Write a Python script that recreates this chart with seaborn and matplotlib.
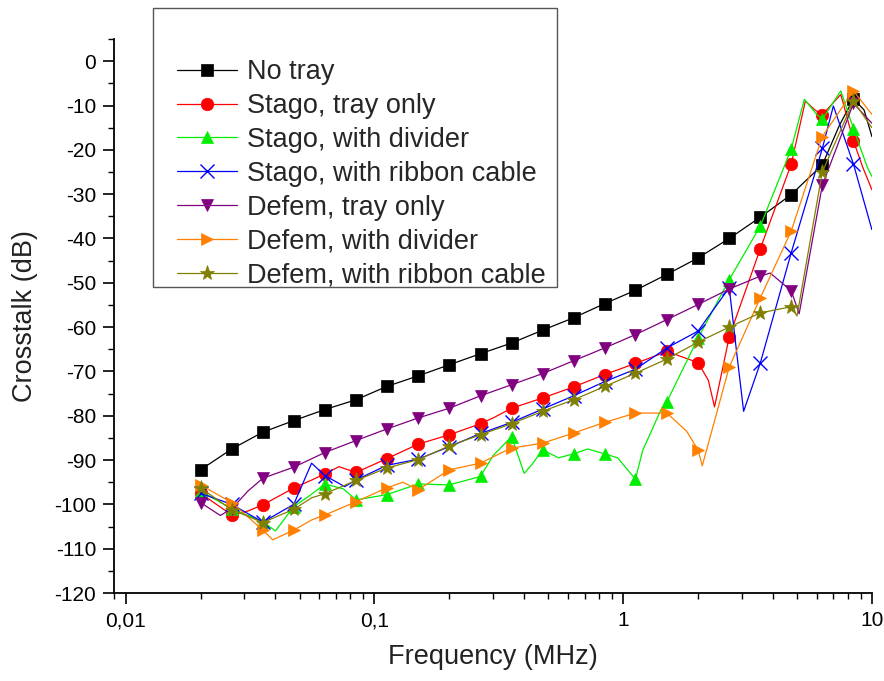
import numpy as np
import pandas as pd
import matplotlib
matplotlib.use("Agg")
import matplotlib.pyplot as plt
import matplotlib.ticker as mticker
from matplotlib.patches import Rectangle
import seaborn as sns

# frequencies (MHz) where the markers sit
freq = [0.02, 0.0267, 0.0356, 0.0474, 0.0632, 0.0843, 0.112, 0.15, 0.2, 0.267, 0.356,
        0.474, 0.632, 0.843, 1.12, 1.5, 2.0, 2.67, 3.56, 4.74, 6.32, 8.43]

# crosstalk (dB) at the marker frequencies
no_tray = [-92.2, -87.5, -83.7, -81.1, -78.6, -76.4, -73.4, -71.0, -68.5, -66.0, -63.6,
           -60.7, -57.9, -54.7, -51.7, -48.1, -44.4, -40.0, -35.2, -30.1, -23.4, -8.5]
stago_tray = [-97.5, -102.4, -100.1, -96.3, -93.1, -92.8, -89.7, -86.4, -84.3, -81.8, -78.3,
              -76.0, -73.5, -70.7, -68.2, -65.5, -68.0, -62.2, -42.3, -23.2, -12.1, -18.0]
stago_div = [-97.0, -101.0, -103.9, -100.5, -95.4, -99.0, -97.8, -95.4, -95.6, -93.7, -84.7,
             -87.7, -88.6, -88.6, -94.3, -76.8, -62.5, -49.3, -37.2, -19.8, -13.1, -15.2]
stago_ribbon = [-97.5, -100.0, -104.0, -100.0, -93.5, -94.5, -91.2, -89.8, -87.0, -84.0, -81.5,
                -78.5, -75.5, -72.3, -69.5, -64.7, -60.9, -51.1, -68.1, -43.2, -19.7, -23.2]
defem_tray = [-99.6, -101.0, -94.1, -91.6, -88.3, -85.6, -83.0, -80.5, -78.3, -75.5, -73.0,
              -70.5, -67.6, -64.7, -61.7, -58.3, -54.9, -51.4, -48.5, -51.8, -28.0, -9.5]
defem_div = [-95.6, -99.6, -105.8, -105.8, -102.4, -99.4, -96.3, -96.7, -92.2, -90.7, -87.3,
             -86.2, -83.9, -81.5, -79.4, -79.4, -87.7, -69.0, -53.4, -38.3, -17.0, -6.7]
defem_ribbon = [-96.3, -101.2, -104.1, -101.1, -97.6, -94.6, -91.8, -89.9, -86.8, -84.3, -81.8,
                -79.0, -76.4, -73.4, -70.4, -67.2, -63.4, -60.0, -56.8, -55.4, -25.0, -9.0]

# extra line points between markers (dips, resonance peaks, noise)
no_tray_f = [7.4, 9.3, 10.0]
no_tray_v = [-14.5, -11.0, -17.0]
stago_tray_f = [0.031, 0.056, 0.072, 0.3, 2.2, 2.33, 5.4, 5.9, 7.5, 9.2, 10.0]
stago_tray_v = [-101.5, -94.5, -91.5, -80.5, -72.0, -78.0, -9.0, -11.0, -7.5, -24.0, -29.0]
stago_div_f = [0.04, 0.055, 0.075, 0.3, 0.4, 0.43, 0.55, 0.72, 0.95, 1.2, 1.27, 1.42,
               5.35, 6.0, 7.5, 9.6, 10.0]
stago_div_v = [-106.0, -98.0, -96.5, -89.0, -93.0, -91.0, -89.5, -87.5, -89.5, -87.7, -84.7,
               -78.6, -8.6, -12.0, -6.7, -24.0, -26.0]
stago_ribbon_f = [0.0559, 0.076, 0.18, 2.85, 3.05, 7.0, 10.0]
stago_ribbon_v = [-90.7, -96.0, -88.0, -65.0, -79.0, -10.1, -38.0]
defem_tray_f = [0.024, 0.031, 3.9, 5.1, 10.0]
defem_tray_v = [-102.5, -97.0, -47.8, -57.0, -14.0]
defem_div_f = [0.039, 0.056, 0.13, 0.32, 1.8, 2.08, 10.0]
defem_div_v = [-108.0, -103.5, -95.0, -88.5, -83.5, -91.3, -12.0]
defem_ribbon_f = [0.056, 5.0, 10.0]
defem_ribbon_v = [-98.5, -57.5, -15.0]

labels = ["No tray", "Stago, tray only", "Stago, with divider", "Stago, with ribbon cable",
          "Defem, tray only", "Defem, with divider", "Defem, with ribbon cable"]
colors = ["#000000", "#ff0000", "#00ee00", "#0000ff", "#800080", "#ff8000", "#808000"]
markers = ["s", "o", "^", "x", "v", ">", "*"]
msizes = [8, 9, 9, 10, 9, 9, 11]

sns.set_style("ticks")
plt.rcParams['font.family'] = ['Liberation Sans', 'DejaVu Sans']
plt.rcParams['axes.unicode_minus'] = False

fig = plt.figure(figsize=(8.84, 6.81), dpi=100)
ax = fig.add_axes([0.1293, 0.1292, 0.857, 0.8135])

series = [(no_tray, no_tray_f, no_tray_v), (stago_tray, stago_tray_f, stago_tray_v),
          (stago_div, stago_div_f, stago_div_v), (stago_ribbon, stago_ribbon_f, stago_ribbon_v),
          (defem_tray, defem_tray_f, defem_tray_v), (defem_div, defem_div_f, defem_div_v),
          (defem_ribbon, defem_ribbon_f, defem_ribbon_v)]

for (vals, xf, xv), label, color, mk, ms in zip(series, labels, colors, markers, msizes):
    df = pd.DataFrame({"f": freq + xf, "db": vals + xv,
                       "is_mark": [True] * len(freq) + [False] * len(xf)})
    df = df.sort_values("f").reset_index(drop=True)
    marks = list(df.index[df["is_mark"]])
    sns.lineplot(data=df, x="f", y="db", ax=ax, color=color, lw=0.9, sort=False,
                 estimator=None, marker=mk, markersize=ms, markevery=marks,
                 markeredgecolor=color, markeredgewidth=1.0 if mk == "x" else 0.5,
                 label=label)

ax.set_xscale("log")
ax.set_xlim(0.009, 10)
ax.set_ylim(-120, 5)
ax.set_yticks(np.arange(-120, 1, 10))
ax.yaxis.set_minor_locator(mticker.MultipleLocator(5))
ax.xaxis.set_major_locator(mticker.FixedLocator([0.01, 0.1, 1, 10]))
ax.xaxis.set_major_formatter(mticker.FixedFormatter(["0,01", "0,1", "1", "10"]))
ax.xaxis.set_minor_locator(mticker.LogLocator(base=10, subs=np.arange(2, 10)))
ax.xaxis.set_minor_formatter(mticker.NullFormatter())

ax.tick_params(which="major", direction="out", length=8, width=1.2, labelsize=15,
               colors="black", pad=5)
ax.tick_params(which="minor", direction="out", length=4, width=1.0, colors="black")
sns.despine(ax=ax)
for s in ["left", "bottom"]:
    ax.spines[s].set_linewidth(1.3)
    ax.spines[s].set_color("black")

ax.set_xlabel("Frequency (MHz)", fontsize=19.5, labelpad=10, color="#222222")
ax.set_ylabel("Crosstalk (dB)", fontsize=19.5, labelpad=12, color="#222222")

# legend box drawn separately (Origin style: empty space above the entries)
ax.add_patch(Rectangle((0.1727, 0.5786), 0.4574, 0.4093, transform=fig.transFigure,
                       facecolor="white", edgecolor="#555555", lw=1.0, clip_on=False,
                       zorder=4))
leg = ax.legend(loc="upper left", bbox_to_anchor=(0.0827, 0.9636), borderaxespad=0,
                fontsize=19.5, frameon=False, handlelength=2.2, handletextpad=0.37,
                labelspacing=0.29, borderpad=0, numpoints=1)

fig.savefig("out.png", dpi=100)
